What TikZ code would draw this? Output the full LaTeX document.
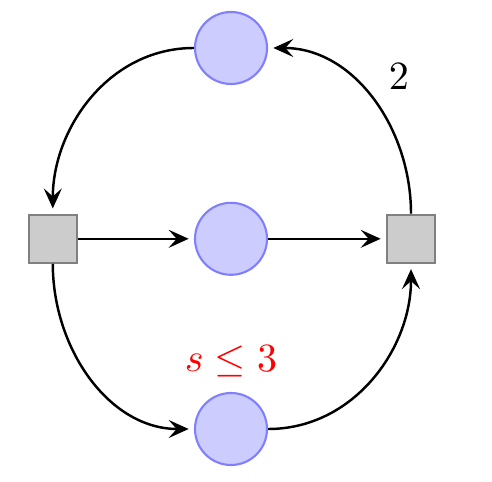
\documentclass[tikz,border=0pt]{standalone}
\usepackage{amsmath, amssymb}
\usepackage{tikz}
\usetikzlibrary{arrows.meta, positioning}
\usepackage{xcolor}

\begin{document}
\begin{tikzpicture}[place/.style={circle, draw=blue!50, fill=blue!20, semithick, minimum size=7.2mm},
                    transition/.style={rectangle, draw=black!50, fill=black!20, semithick, minimum size=4.8mm},
                    arc/.style={-{Stealth[length=2mm, width=1.8mm, inset=0.8mm]}, line width=0.7pt, shorten >=1.5pt},
                    lbl/.style={scale=1.14},
                    x=1.2cm, y=1.2cm]
                \useasboundingbox (-1.925, -2.025) rectangle (2.175, 1.99);
                \node[place] (top) at (0, 1.59) {};
                \node[place] (mid) at (0, 0) {};
                \node[place] (bot) at (0, -1.585) {};
                \node[transition] (tl) at (-1.485, 0) {};
                \node[transition] (tr) at (1.5, 0) {};
                \node[lbl] (wt) at (1.4, 1.35) {$2$};
                \node[lbl, text=red] (cap) at (0, -1.025) {$s \leq 3$};
                \draw[arc] (top.west) to[out=180, in=90] (tl.north);
                \draw[arc] (tl.east) -- (mid.west);
                \draw[arc] (mid.east) -- (tr.west);
                \draw[arc] (tr.north) to[out=90, in=0] (top.east);
                \draw[arc] (tl.south) to[out=-90, in=180] (bot.west);
                \draw[arc] (bot.east) to[out=0, in=-90] (tr.south);
            \end{tikzpicture}
\end{document}
